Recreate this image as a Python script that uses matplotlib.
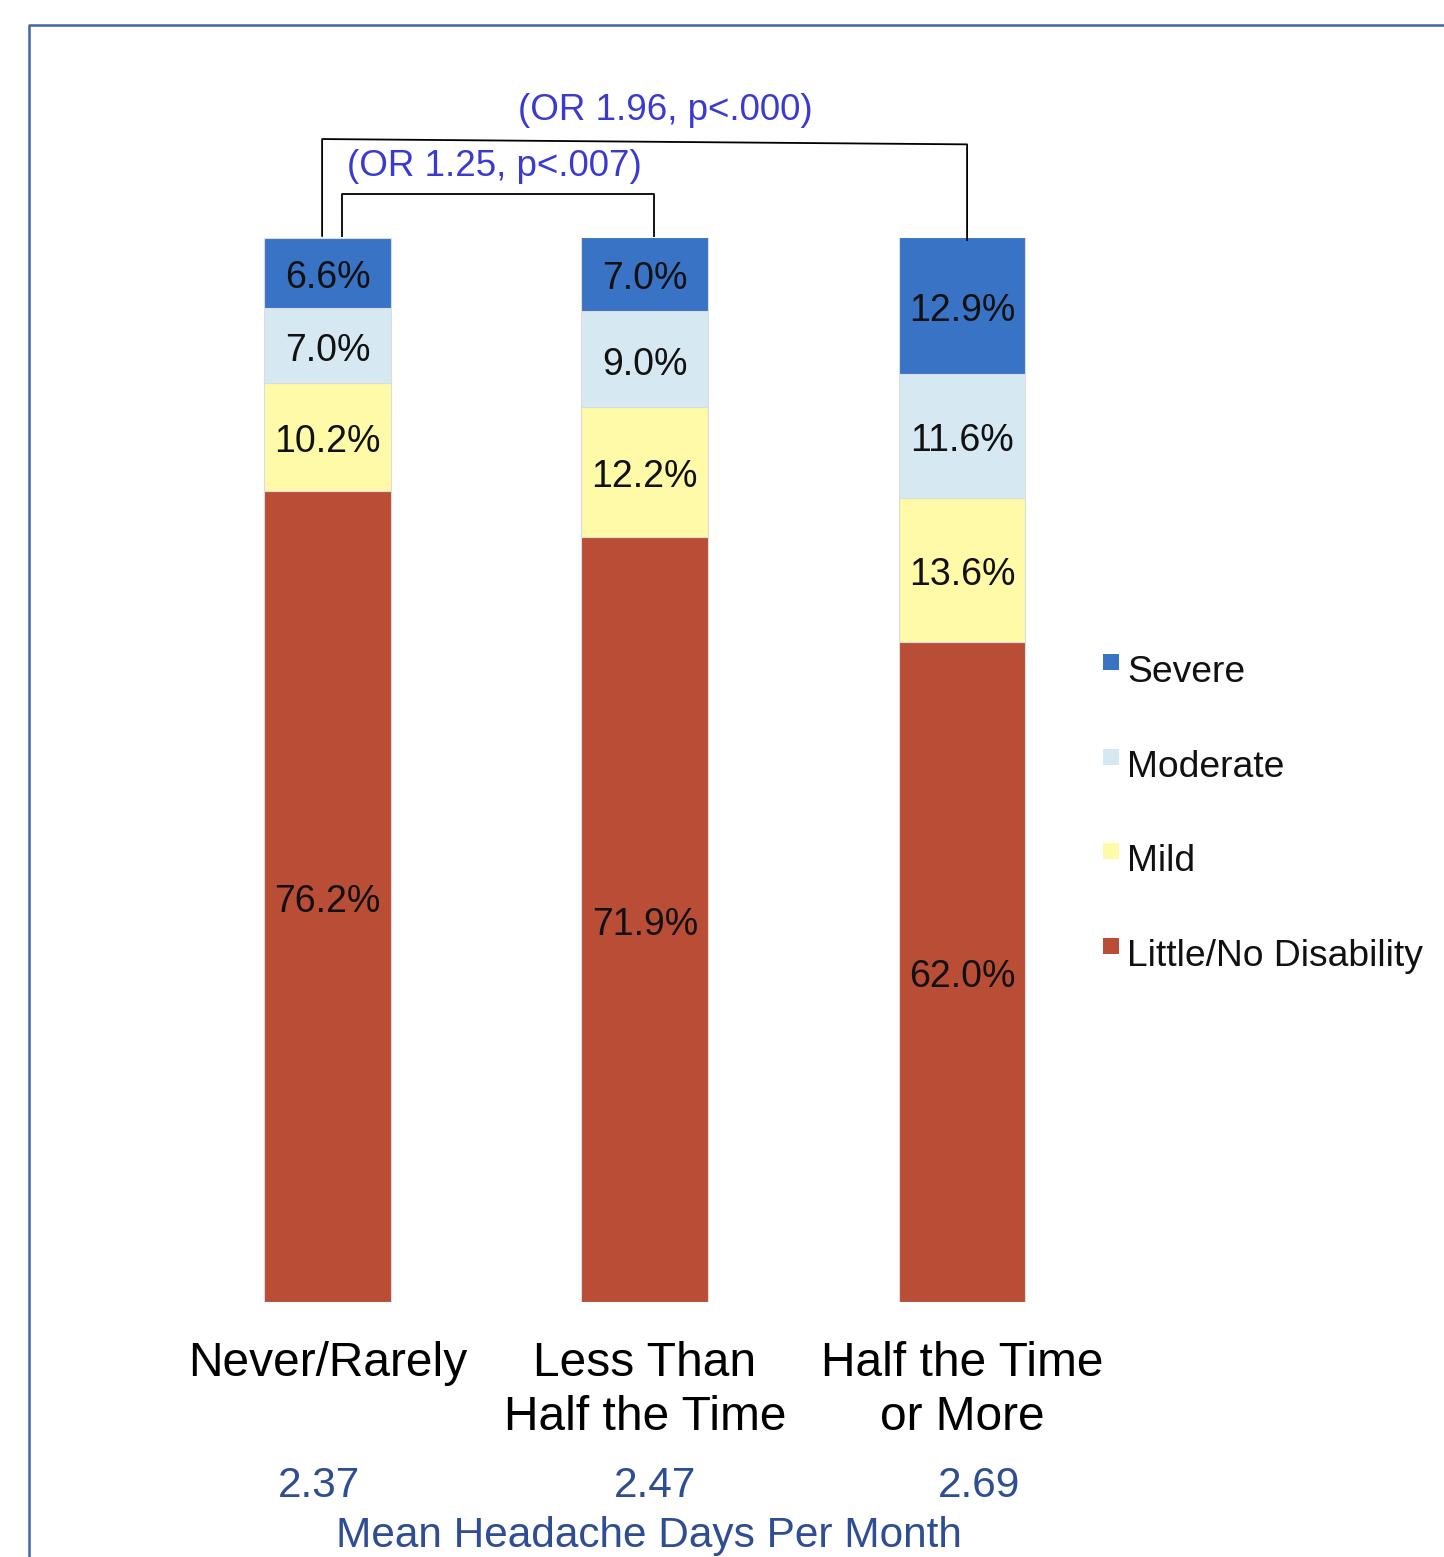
import numpy as np
from matplotlib import pyplot as plt
from matplotlib.lines import Line2D
from matplotlib.patches import Rectangle

plt.rcParams['font.family'] = ['Liberation Sans', 'DejaVu Sans']

categories = ['Never/Rarely', 'Less Than\nHalf the Time', 'Half the Time\nor More']
levels = ['Little/No Disability', 'Mild', 'Moderate', 'Severe']
little = [76.2, 71.9, 62.0]
mild = [10.2, 12.2, 13.6]
moderate = [7.0, 9.0, 11.6]
severe = [6.6, 7.0, 12.9]
mean_days = ['2.37', '2.47', '2.69']
odds_labels = ['(OR 1.25, p<.007)', '(OR 1.96, p<.000)']

colours = {
    'Little/No Disability': '#b94d36',
    'Mild': '#fefaa8',
    'Moderate': '#d6e9f3',
    'Severe': '#3873c5',
}
annot_blue = '#3a3ad2'
mean_blue = '#2e4d94'

W, H = 1444, 1557
fig = plt.figure(figsize=(W / 100, H / 100), dpi=100)
# axes spans full width; y from bar bottom (px 1302) to bar top (px 238)
ax = fig.add_axes((0, (H - 1302) / H, 1, 1064 / H))
ax.set_xlim(-327.5 / 317.25, (W - 327.5) / 317.25)
ax.set_ylim(0, 100)
for s in ax.spines.values():
    s.set_visible(False)
ax.set_yticks([])

x = np.arange(len(categories))
series = [little, mild, moderate, severe]
bottom = np.zeros(len(categories))
for name, vals in zip(levels, series):
    vals = np.array(vals)
    ax.bar(x, vals, width=0.40, bottom=bottom, color=colours[name],
           edgecolor='#dcdcdc', linewidth=0.8)
    for xi, b, v in zip(x, bottom, vals):
        ax.text(xi, b + v / 2 - 0.5, f'{v:.1f}%', ha='center', va='center',
                fontsize=27, color='#111111')
    bottom += vals

ax.set_xticks(x, categories, fontsize=34.5, linespacing=1.27)
ax.tick_params(axis='x', length=0, pad=28)

# significance brackets
ax.plot([0.046, 0.046, 1.029, 1.029], [100.2, 104.1, 104.1, 100.2],
        color='black', lw=1.3, clip_on=False)
ax.plot([-0.017, -0.017, 2.016, 2.016], [100.2, 109.3, 108.8, 99.8],
        color='black', lw=1.3, clip_on=False)
ax.text(0.525, 106.7, odds_labels[0], ha='center', va='center',
        fontsize=26.5, color=annot_blue, clip_on=False)
ax.text(1.064, 112.0, odds_labels[1], ha='center', va='center',
        fontsize=26.5, color=annot_blue, clip_on=False)

# mean headache days
for xi, m in zip([-0.027, 1.032, 2.054], mean_days):
    ax.text(xi, -17.3, m, ha='center', va='center', fontsize=30.5,
            color=mean_blue, clip_on=False)
ax.text(1.013, -22.0, 'Mean Headache Days Per Month', ha='center',
        va='center', fontsize=30.5, color=mean_blue, clip_on=False)

# legend (top entry first)
leg_y = [682, 777, 871, 966]
for name, yb in zip(levels[::-1], leg_y):
    fig.patches.append(Rectangle(
        (1103 / W, (H - yb + 12) / H), 16 / W, 16 / H,
        transform=fig.transFigure, facecolor=colours[name],
        edgecolor='none'))
    fig.text(1127 / W, (H - yb) / H, name, ha='left', va='baseline',
             fontsize=26.8, color='#111111')

# slide frame
fig.lines.append(Line2D([29 / W, 29 / W, 1], [0, (H - 25) / H, (H - 25) / H],
                        transform=fig.transFigure, color='#4065a8', lw=1.8))

fig.savefig('out.png', dpi=100)
